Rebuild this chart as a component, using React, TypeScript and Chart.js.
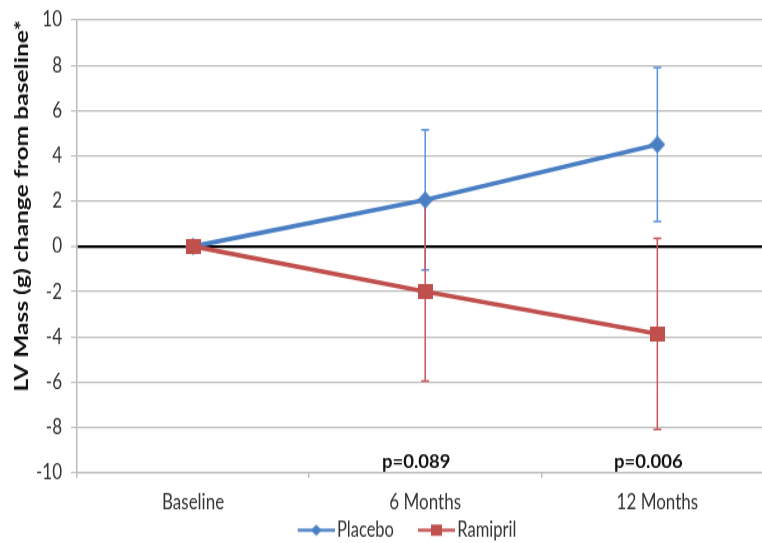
import { useEffect, useRef } from 'react';
import { Chart, registerables } from 'chart.js';

Chart.register(...registerables);

const categories = ['Baseline', '6 Months', '12 Months'];
const placeboValues = [0, 2.05, 4.5];
const placeboErrors = [0, 3.1, 3.4];
const ramiprilValues = [0, -2.0, -3.87];
const ramiprilErrors = [0, 3.95, 4.22];
const pValueLabels = ['', 'p=0.089', 'p=0.006'];
const yTicks = [-10, -8, -6, -4, -2, 0, 2, 4, 6, 8, 10];

// The reference figure is vertically stretched; render at reduced height, stretch with CSS.
const PAGE_W = 762;
const PAGE_H = 543;
const CANVAS_W = 785;
const CANVAS_H = 434;

const FONT = 'Lato, "Noto Sans", sans-serif';
const BLUE = '#4a7fc4';
const BLUE_ERR = '#5a92dc';
const RED = '#c0504d';
const RED_ERR = '#c9575a';
const GRID = '#bcbcbc';
const TEXT = '#333333';

function makeMarker(color: string, shape: 'diamond' | 'square') {
  const c = document.createElement('canvas');
  const ctx = c.getContext('2d')!;
  if (shape === 'diamond') {
    c.width = 16;
    c.height = 14;
    ctx.fillStyle = color;
    ctx.beginPath();
    ctx.moveTo(8, 0);
    ctx.lineTo(16, 7);
    ctx.lineTo(8, 14);
    ctx.lineTo(0, 7);
    ctx.closePath();
    ctx.fill();
  } else {
    c.width = 15;
    c.height = 12;
    ctx.fillStyle = color;
    ctx.fillRect(0, 0, 15, 12);
  }
  return c;
}

function makeLegendIcon(color: string, shape: 'diamond' | 'square') {
  const c = document.createElement('canvas');
  c.width = 62;
  c.height = 13;
  const ctx = c.getContext('2d')!;
  ctx.strokeStyle = color;
  ctx.lineWidth = 2.6;
  ctx.beginPath();
  ctx.moveTo(25, 6.5);
  ctx.lineTo(62, 6.5);
  ctx.stroke();
  ctx.fillStyle = color;
  const cx = 43.5;
  ctx.beginPath();
  if (shape === 'diamond') {
    ctx.moveTo(cx, 2);
    ctx.lineTo(cx + 5.5, 6.5);
    ctx.lineTo(cx, 11);
    ctx.lineTo(cx - 5.5, 6.5);
    ctx.closePath();
  } else {
    ctx.rect(cx - 5.5, 2, 11, 9);
  }
  ctx.fill();
  return c;
}

const errorBarPlugin = {
  id: 'errorBars',
  beforeDatasetsDraw(chart: any) {
    const { ctx } = chart;
    const x = chart.scales.x;
    const y = chart.scales.y;
    chart.data.datasets.forEach((ds: any) => {
      const errs: number[] = ds.errors || [];
      ctx.save();
      ctx.strokeStyle = ds.errorColor;
      ctx.lineWidth = 1.5;
      ds.data.forEach((v: number, i: number) => {
        const e = errs[i];
        if (!e) return;
        const px = x.getPixelForValue(i);
        const top = y.getPixelForValue(v + e);
        const bot = y.getPixelForValue(v - e);
        ctx.beginPath();
        ctx.moveTo(px, top);
        ctx.lineTo(px, bot);
        ctx.moveTo(px - 4, top);
        ctx.lineTo(px + 4, top);
        ctx.moveTo(px - 4, bot);
        ctx.lineTo(px + 4, bot);
        ctx.stroke();
      });
      ctx.restore();
    });
  },
};

const pLabelPlugin = {
  id: 'pLabels',
  afterDatasetsDraw(chart: any) {
    const { ctx } = chart;
    const x = chart.scales.x;
    const y = chart.scales.y;
    ctx.save();
    ctx.font = `bold 18.5px ${FONT}`;
    ctx.fillStyle = '#111';
    ctx.textAlign = 'center';
    ctx.textBaseline = 'middle';
    pValueLabels.forEach((t, i) => {
      if (!t) return;
      ctx.save();
      ctx.translate(x.getPixelForValue(i) - 9, y.getPixelForValue(y.min) - 8);
      ctx.scale(1, 0.8);
      ctx.fillText(t, 0, 0);
      ctx.restore();
    });
    ctx.restore();
  },
};

export default function App() {
  const ref = useRef<HTMLCanvasElement | null>(null);

  useEffect(() => {
    if (!ref.current) return;
    const icons = [makeLegendIcon(BLUE, 'diamond'), makeLegendIcon(RED, 'square')];
    const chart = new Chart(ref.current, {
      type: 'line',
      data: {
        labels: categories,
        datasets: [
          {
            label: 'Placebo',
            data: placeboValues,
            borderColor: BLUE,
            backgroundColor: BLUE,
            borderWidth: 3.6,
            pointStyle: makeMarker(BLUE, 'diamond'),
            pointRadius: 8,
            order: 1,
            errors: placeboErrors,
            errorColor: BLUE_ERR,
          } as any,
          {
            label: 'Ramipril',
            data: ramiprilValues,
            borderColor: RED,
            backgroundColor: RED,
            borderWidth: 3.6,
            pointStyle: makeMarker(RED, 'square'),
            pointRadius: 8,
            order: 0,
            errors: ramiprilErrors,
            errorColor: RED_ERR,
          } as any,
        ],
      },
      options: {
        animation: false,
        responsive: false,
        maintainAspectRatio: false,
        devicePixelRatio: 1,
        layout: { padding: { left: 10, top: 16, right: 0, bottom: -8 } },
        plugins: {
          tooltip: { enabled: false },
          legend: {
            position: 'bottom',
            labels: {
              usePointStyle: true,
              pointStyleWidth: 50,
              padding: 5,
              color: TEXT,
              font: { family: FONT, size: 16.5 },
              generateLabels: (c: any) =>
                c.data.datasets.map((ds: any, i: number) => ({
                  text: ds.label,
                  pointStyle: icons[i],
                  fillStyle: ds.borderColor,
                  strokeStyle: ds.borderColor,
                  lineWidth: 0,
                  fontColor: TEXT,
                  datasetIndex: i,
                  hidden: false,
                })),
            },
          },
        },
        scales: {
          x: {
            type: 'category',
            offset: true,
            afterFit: (s: any) => {
              s.height = 32.8;
            },
            grid: {
              offset: true,
              drawOnChartArea: false,
              drawTicks: true,
              tickLength: 4,
              color: GRID,
              lineWidth: 1.5,
            },
            border: { display: true, color: GRID, width: 1.2 },
            ticks: {
              color: TEXT,
              padding: 9.3,
              font: { family: FONT, size: 17 },
            },
          },
          y: {
            min: yTicks[0],
            max: yTicks[yTicks.length - 1],
            afterBuildTicks: (s: any) => {
              s.ticks = yTicks.map((v) => ({ value: v }));
            },
            afterFit: (s: any) => {
              s.width = 67;
            },
            grid: {
              color: (c: any) => (c.tick && c.tick.value === 0 ? '#000' : GRID),
              lineWidth: (c: any) => (c.tick && c.tick.value === 0 ? 2.2 : 1.2),
              tickColor: GRID,
              tickWidth: 1.2,
              tickLength: 6,
            },
            border: { display: true, color: GRID, width: 1.5 },
            ticks: {
              color: TEXT,
              padding: 9,
              font: { family: FONT, size: 17, lineHeight: 0.8 },
            },
            title: {
              display: true,
              text: 'LV Mass (g) change from baseline*',
              align: 'end',
              color: '#111',
              font: { family: FONT, size: 19.7, weight: 'bold' },
              padding: { top: 0, bottom: 0 },
            },
          },
        },
      },
      plugins: [errorBarPlugin, pLabelPlugin],
    } as any);
    return () => chart.destroy();
  }, []);

  return (
    <div
      style={{
        position: 'fixed',
        left: 0,
        top: 0,
        width: PAGE_W,
        height: PAGE_H,
        overflow: 'hidden',
        background: '#fff',
      }}
    >
      <canvas
        ref={ref}
        width={CANVAS_W}
        height={CANVAS_H}
        style={{ display: 'block', width: CANVAS_W, height: PAGE_H }}
      />
    </div>
  );
}
